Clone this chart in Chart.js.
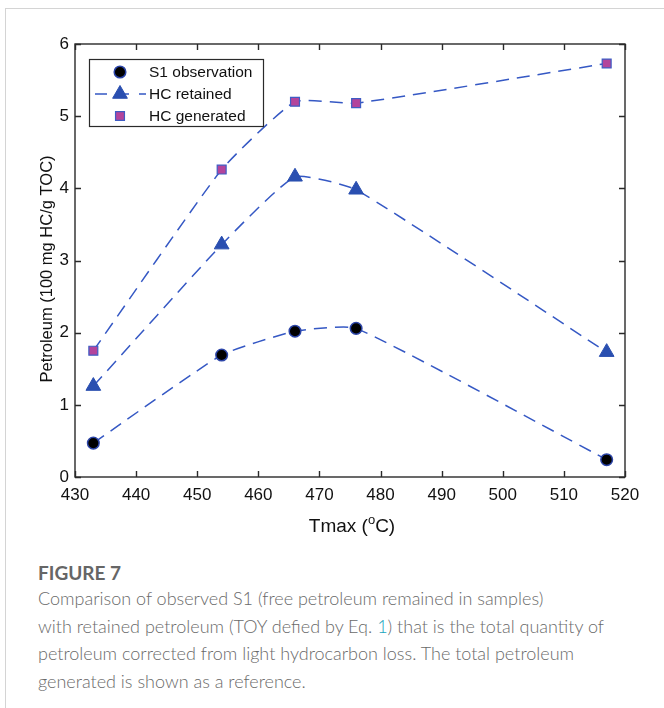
<!DOCTYPE html>
<html>
<head>
<meta charset="utf-8">
<script src="https://cdn.jsdelivr.net/npm/chart.js@4.4.1/dist/chart.umd.min.js"></script>
<style>
  html, body { margin: 0; padding: 0; background: #fff; }
  body { width: 664px; height: 708px; position: relative; overflow: hidden; }
  .card { position: absolute; left: 5px; top: 8px; right: 0; bottom: 0;
          border-left: 1px solid #d4d4d4; border-top: 1px solid #d4d4d4; }
  #wrap { position: absolute; left: 0; top: 0; width: 664px; height: 550px; }
  .caption { position: absolute; left: 38px; top: 561px; width: 626px; white-space: nowrap;
             font-family: Lato, "Open Sans", sans-serif; color: #6a6a6a; }
  .caption h4 { margin: 0 0 1px 0; font-size: 19px; font-weight: 700; color: #666; }
  .caption p { margin: 0; font-size: 18px; line-height: 27.5px; font-weight: 300; }
  .caption .ref { color: #1aa5bd; }
</style>
</head>
<body>
<div class="card"></div>
<div id="wrap"><canvas id="fig7"></canvas></div>
<div class="caption">
  <h4>FIGURE 7</h4>
  <p>Comparison of observed S1 (free petroleum remained in samples)<br>with retained petroleum (TOY defied by Eq. <span class="ref">1</span>) that is the total quantity of<br>petroleum corrected from light hydrocarbon loss. The total petroleum<br>generated is shown as a reference.</p>
</div>
<script>
// ── Data ──
const tmax        = [433, 454, 466, 476, 517];
const s1Observed  = [0.47, 1.69, 2.02, 2.06, 0.24];
const hcRetained  = [1.26, 3.22, 4.16, 3.98, 1.73];
const hcGenerated = [1.75, 4.26, 5.20, 5.18, 5.73];
const xTicks = [430, 440, 450, 460, 470, 480, 490, 500, 510, 520];
const yTicks = [0, 1, 2, 3, 4, 5, 6];

const LINE_BLUE = "#3558c4";
const FONT = "Liberation Sans, Arial, sans-serif";

const pts = ys => tmax.map((x, i) => ({ x, y: ys[i] }));

// ── Frame with inward ticks, axis titles ──
const framePlugin = {
  id: "frame",
  afterDraw(chart) {
    const { ctx, chartArea: a, scales } = chart;
    ctx.save();
    ctx.strokeStyle = "#2a2a2a";
    ctx.lineWidth = 1.4;
    ctx.strokeRect(a.left, a.top, a.right - a.left, a.bottom - a.top);
    ctx.beginPath();
    xTicks.forEach(v => {
      const px = Math.round(scales.x.getPixelForValue(v)) + 0.5;
      ctx.moveTo(px, a.bottom); ctx.lineTo(px, a.bottom - 6);
      ctx.moveTo(px, a.top);    ctx.lineTo(px, a.top + 6);
    });
    yTicks.forEach(v => {
      const py = Math.round(scales.y.getPixelForValue(v)) + 0.5;
      ctx.moveTo(a.left, py);  ctx.lineTo(a.left + 6, py);
      ctx.moveTo(a.right, py); ctx.lineTo(a.right - 6, py);
    });
    ctx.stroke();

    // x title with superscript o
    ctx.fillStyle = "#111";
    ctx.textBaseline = "alphabetic";
    const main = "19px " + FONT, sup = "13px " + FONT;
    const parts = [["Tmax (", main, 0], ["o", sup, -8], ["C)", main, 0]];
    let w = 0;
    parts.forEach(p => { ctx.font = p[1]; w += ctx.measureText(p[0]).width; });
    let x = (a.left + a.right) / 2 - w / 2 + 2;
    const y = 532;
    parts.forEach(p => {
      ctx.font = p[1];
      ctx.fillText(p[0], x, y + p[2]);
      x += ctx.measureText(p[0]).width;
    });

    // y title
    ctx.translate(47, 269);
    ctx.rotate(-Math.PI / 2);
    ctx.font = "16.5px " + FONT;
    ctx.textAlign = "center";
    ctx.textBaseline = "middle";
    ctx.fillText("Petroleum (100 mg HC/g TOC)", 0, 0);
    ctx.restore();
  }
};

function drawMarker(ctx, style, r, x, y) {
  if (style === "circle") {
    ctx.arc(x, y, r, 0, Math.PI * 2);
  } else if (style === "triangle") {
    ctx.moveTo(x, y - r);
    ctx.lineTo(x + r * Math.sin(Math.PI / 3), y + r / 2);
    ctx.lineTo(x - r * Math.sin(Math.PI / 3), y + r / 2);
    ctx.closePath();
  } else {
    const s = r * Math.SQRT1_2;
    ctx.rect(x - s, y - s, 2 * s, 2 * s);
  }
}

// ── Legend box ──
const legendPlugin = {
  id: "boxLegend",
  afterDraw(chart) {
    const { ctx } = chart;
    const box = { x: 89, y: 59, w: 174, h: 67 };
    ctx.save();
    ctx.fillStyle = "#fff";
    ctx.fillRect(box.x, box.y, box.w, box.h);
    ctx.strokeStyle = "#2a2a2a";
    ctx.lineWidth = 1.2;
    ctx.strokeRect(box.x + 0.5, box.y + 0.5, box.w, box.h);

    const rows = [72, 94, 116];
    const mx = 120;
    chart.data.datasets.forEach((ds, i) => {
      const ry = rows[i];
      if (i === 1) {
        ctx.save();
        ctx.strokeStyle = LINE_BLUE;
        ctx.lineWidth = 1.5;
        ctx.setLineDash([12, 10]);
        ctx.beginPath();
        ctx.moveTo(95, ry); ctx.lineTo(146, ry);
        ctx.stroke();
        ctx.restore();
      }
      ctx.fillStyle = ds.pointBackgroundColor;
      ctx.strokeStyle = ds.pointBorderColor;
      ctx.lineWidth = ds.pointBorderWidth;
      ctx.beginPath();
      drawMarker(ctx, ds.pointStyle, ds.pointRadius, mx, ry);
      ctx.fill();
      ctx.stroke();
      ctx.fillStyle = "#111";
      ctx.font = "15.5px " + FONT;
      ctx.textBaseline = "middle";
      ctx.fillText(ds.label, 149, ry + 1);
    });
    ctx.restore();
  }
};

const common = {
  borderColor: LINE_BLUE,
  borderWidth: 1.5,
  borderDash: [13, 8],
  tension: 0.15,
  fill: false,
  showLine: true
};

new Chart(document.getElementById("fig7"), {
  type: "scatter",
  data: {
    datasets: [
      { ...common, label: "S1 observation", data: pts(s1Observed),
        pointStyle: "circle", pointRadius: 5.8, pointBorderWidth: 1.5,
        pointBackgroundColor: "#000", pointBorderColor: "#2c45a8" },
      { ...common, label: "HC retained", data: pts(hcRetained),
        pointStyle: "triangle", pointRadius: 8.5, pointBorderWidth: 1,
        pointBackgroundColor: "#2a4fb0", pointBorderColor: "#2a4fb0" },
      { ...common, label: "HC generated", data: pts(hcGenerated),
        pointStyle: "rect", pointRadius: 6.3, pointBorderWidth: 1.2,
        pointBackgroundColor: "#b3449c", pointBorderColor: "#3f5cc4" }
    ]
  },
  options: {
    responsive: true,
    maintainAspectRatio: false,
    animation: false,
    layout: { padding: { top: 44, right: 39, left: 0, bottom: 0 } },
    plugins: { legend: { display: false }, tooltip: { enabled: false } },
    scales: {
      x: {
        type: "linear", min: 430, max: 520,
        grid: { display: false, drawTicks: false },
        border: { display: false },
        afterBuildTicks: s => { s.ticks = xTicks.map(v => ({ value: v })); },
        afterFit: s => { s.height = 73; },
        ticks: { color: "#111", font: { family: FONT, size: 17 }, padding: 8, maxRotation: 0 }
      },
      y: {
        min: 0, max: 6,
        grid: { display: false, drawTicks: false },
        border: { display: false },
        afterBuildTicks: s => { s.ticks = yTicks.map(v => ({ value: v })); },
        afterFit: s => { s.width = 75; },
        ticks: { color: "#111", font: { family: FONT, size: 17 }, padding: 6 }
      }
    }
  },
  plugins: [framePlugin, legendPlugin]
});
</script>
</body>
</html>
